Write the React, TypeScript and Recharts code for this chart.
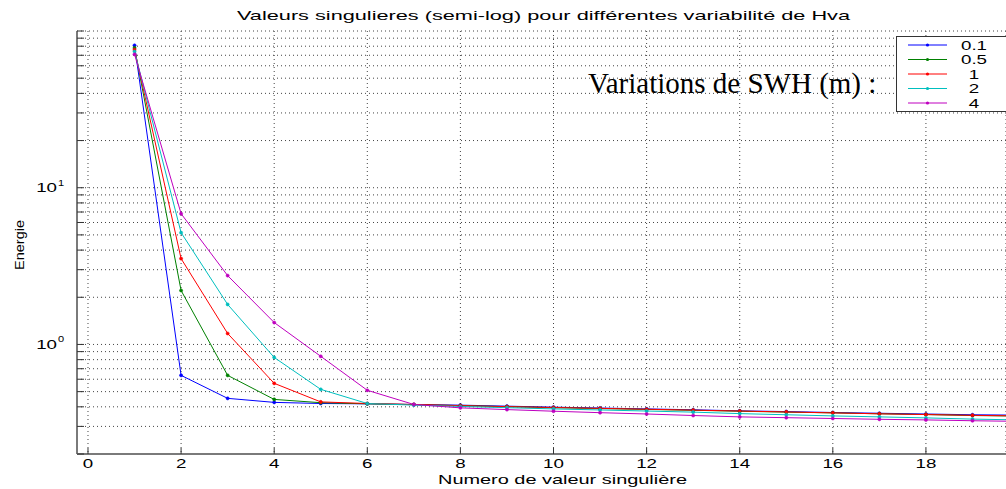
import React from 'react';
import { LineChart, Line, XAxis, YAxis, CartesianGrid } from 'recharts';

const RANKS = [1, 2, 3, 4, 5, 6, 7, 8, 9, 10, 11, 12, 13, 14, 15, 16, 17, 18, 19, 20];

const SWH_01 = [81, 0.635, 0.453, 0.427, 0.42, 0.418, 0.414, 0.41, 0.404, 0.398, 0.393, 0.388, 0.383, 0.377, 0.373, 0.368, 0.364, 0.36, 0.356, 0.354];
const SWH_05 = [78, 2.21, 0.635, 0.446, 0.425, 0.418, 0.413, 0.407, 0.401, 0.395, 0.39, 0.385, 0.38, 0.375, 0.37, 0.366, 0.361, 0.357, 0.352, 0.349];
const SWH_1 = [76, 3.53, 1.175, 0.565, 0.43, 0.42, 0.414, 0.407, 0.401, 0.396, 0.391, 0.386, 0.381, 0.376, 0.371, 0.366, 0.361, 0.357, 0.353, 0.35];
const SWH_2 = [74, 5.17, 1.8, 0.826, 0.517, 0.42, 0.41, 0.402, 0.395, 0.388, 0.382, 0.376, 0.37, 0.362, 0.356, 0.35, 0.345, 0.34, 0.334, 0.33];
const SWH_4 = [71, 6.83, 2.75, 1.38, 0.84, 0.51, 0.414, 0.394, 0.384, 0.375, 0.367, 0.36, 0.352, 0.345, 0.341, 0.337, 0.333, 0.33, 0.326, 0.323];

const SERIES = [
  { key: 's01', name: '0.1', color: '#0000ff', values: SWH_01 },
  { key: 's05', name: '0.5', color: '#008000', values: SWH_05 },
  { key: 's1', name: '1', color: '#ff0000', values: SWH_1 },
  { key: 's2', name: '2', color: '#00bfbf', values: SWH_2 },
  { key: 's4', name: '4', color: '#bf00bf', values: SWH_4 },
];

const X_TICKS = [0, 2, 4, 6, 8, 10, 12, 14, 16, 18];
const Y_TICKS = [0.2, 0.3, 0.4, 0.5, 0.6, 0.7, 0.8, 0.9, 1, 2, 3, 4, 5, 6, 7, 8, 9, 10, 20, 30, 40, 50, 60, 70, 80, 90, 100];
const Y_LABELED = [1, 10];

const TITLE = 'Valeurs singulieres (semi-log) pour différentes variabilité de Hva';
const X_LABEL = 'Numero de valeur singulière';
const Y_LABEL = 'Energie';
const NOTE = 'Variations de SWH (m) :';

const data = RANKS.map((r, i) => {
  const row: Record<string, number> = { rank: r };
  SERIES.forEach((s) => { row[s.key] = s.values[i]; });
  return row;
});

const FONT = '"Liberation Sans", Arial, sans-serif';
const AXIS = '#7a7a7a';
const SX = 1.5;

const Stretch = ({ x, y, anchor = 'middle', size = 12.5, children }: any) => (
  <text transform={`translate(${x},${y}) scale(${SX},1)`} textAnchor={anchor} fontSize={size} fontFamily={FONT} fill="#000">
    {children}
  </text>
);

const BottomTick = (props: any) => {
  const { x, y, payload } = props;
  return (
    <g>
      <line x1={x} x2={x} y1={y} y2={y - 6} stroke="#333" strokeWidth={1} />
      <Stretch x={x} y={y + 14}>{payload.value}</Stretch>
    </g>
  );
};

const TopTick = (props: any) => {
  const { x, y } = props;
  return <line x1={x} x2={x} y1={y} y2={y + 6} stroke="#333" strokeWidth={1} />;
};

const LeftTick = (props: any) => {
  const { x, y, payload } = props;
  const v = payload.value;
  const show = Y_LABELED.includes(v);
  return (
    <g>
      <line x1={x} x2={x + 7} y1={y} y2={y} stroke="#333" strokeWidth={1} />
      {show && (
        <>
          <Stretch x={x - 20} y={y + 4.5} anchor="end">10</Stretch>
          <text transform={`translate(${x - 19},${y - 2}) scale(1.3,1)`} fontSize={8.5} fontFamily={FONT}>
            {Math.round(Math.log10(v))}
          </text>
        </>
      )}
    </g>
  );
};

export default function App() {
  return (
    <div style={{ position: 'relative', width: 1006, height: 489, overflow: 'hidden', background: '#fff' }}>
      <style>{'body{margin:0}'}</style>
      <LineChart width={1006} height={489} data={data} margin={{ top: 31, right: 0, bottom: 0, left: 0 }}>
        <CartesianGrid stroke="#444" strokeDasharray="1 3" />
        <XAxis
          dataKey="rank"
          type="number"
          domain={[-0.236, 19.72]}
          allowDataOverflow
          ticks={X_TICKS}
          interval={0}
          height={35}
          tickSize={0}
          tickMargin={0}
          tickLine={false}
          tick={(p: any) => <BottomTick {...p} />}
          axisLine={{ stroke: AXIS, strokeWidth: 2 }}
        />
        <XAxis
          xAxisId="top"
          orientation="top"
          dataKey="rank"
          type="number"
          domain={[-0.236, 19.72]}
          allowDataOverflow
          ticks={X_TICKS}
          interval={0}
          height={0}
          tickSize={0}
          tickMargin={0}
          tickLine={false}
          tick={(p: any) => <TopTick {...p} />}
          axisLine={{ stroke: AXIS, strokeWidth: 2 }}
        />
        <YAxis
          scale="log"
          domain={[0.2, 100]}
          allowDataOverflow
          ticks={Y_TICKS}
          interval={0}
          width={77}
          tickSize={0}
          tickMargin={0}
          tickLine={false}
          tick={(p: any) => <LeftTick {...p} />}
          axisLine={{ stroke: AXIS, strokeWidth: 2 }}
        />
        {SERIES.map((s) => (
          <Line
            key={s.key}
            dataKey={s.key}
            name={s.name}
            type="linear"
            stroke={s.color}
            strokeWidth={1}
            dot={{ r: 1.6, fill: s.color, stroke: s.color, strokeWidth: 0.5 }}
            isAnimationActive={false}
          />
        ))}
      </LineChart>
      <svg width={1006} height={489} style={{ position: 'absolute', left: 0, top: 0, pointerEvents: 'none' }}>
        <text x={237} y={20} fontSize={13} fontFamily={FONT} textLength={613} lengthAdjust="spacingAndGlyphs">{TITLE}</text>
        <text x={438} y={484} fontSize={13} fontFamily={FONT} textLength={249} lengthAdjust="spacingAndGlyphs">{X_LABEL}</text>
        <text transform="translate(24,245) rotate(-90)" textAnchor="middle" fontSize={13} fontFamily={FONT} textLength={50} lengthAdjust="spacingAndGlyphs">{Y_LABEL}</text>
        <text x={588} y={93} fontSize={29} fontFamily='"Liberation Serif", "Times New Roman", serif'>{NOTE}</text>
        <rect x={896.5} y={36.5} width={120} height={75} fill="#fff" stroke="#333" strokeWidth={1} />
        {SERIES.map((s, i) => {
          const ry = 45 + i * 14.5;
          return (
            <g key={s.key}>
              <line x1={908} x2={947} y1={ry} y2={ry} stroke={s.color} strokeWidth={1} />
              <circle cx={927.5} cy={ry} r={1.6} fill={s.color} />
              <Stretch x={974} y={ry + 4.5}>{s.name}</Stretch>
            </g>
          );
        })}
      </svg>
    </div>
  );
}
